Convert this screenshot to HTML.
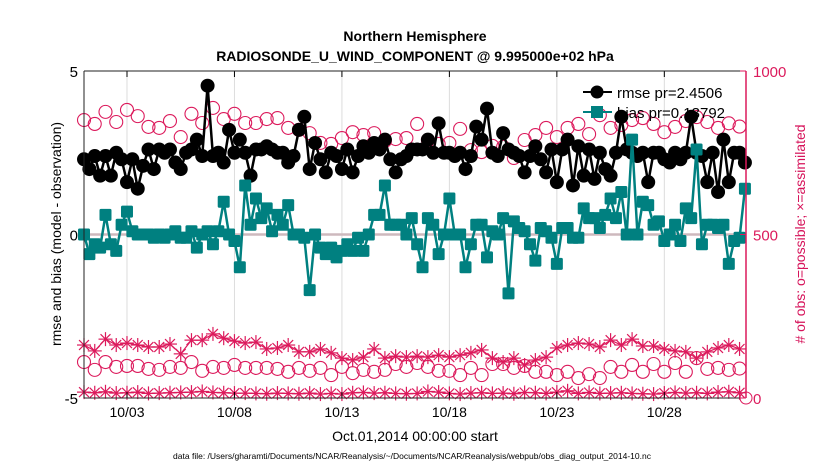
<!DOCTYPE html>
<html><head><meta charset="utf-8"><style>
body{margin:0;background:#fff;}
svg text{font-family:"Liberation Sans",sans-serif;}
</style></head><body>
<svg id="chart" width="830" height="470" viewBox="0 0 830 470" xmlns="http://www.w3.org/2000/svg">
<rect width="830" height="470" fill="#fff"/>
<text x="415" y="41" font-size="14" font-weight="bold" text-anchor="middle">Northern Hemisphere</text>
<text x="415" y="61" font-size="14" font-weight="bold" text-anchor="middle">RADIOSONDE_U_WIND_COMPONENT @ 9.995000e+02 hPa</text>
<g id="grid"></g>
<g id="marks"></g>
<g id="axes"></g>
<text transform="translate(61,234) rotate(-90)" font-size="14" text-anchor="middle">rmse and bias (model - observation)</text>
<text transform="translate(805,234) rotate(-90)" font-size="14" fill="#d6135a" text-anchor="middle"># of obs: o=possible; ×=assimilated</text>
<text x="415" y="441" font-size="14" text-anchor="middle">Oct.01,2014 00:00:00 start</text>
<text x="412" y="459" font-size="8.5" text-anchor="middle">data file: /Users/gharamti/Documents/NCAR/Reanalysis/~/Documents/NCAR/Reanalysis/webpub/obs_diag_output_2014-10.nc</text>
<g id="legend">
<line x1="583" y1="92" x2="612" y2="92" stroke="#000" stroke-width="2"/>
<circle cx="597" cy="92" r="6.5" fill="#000"/>
<text x="617" y="98" font-size="15">rmse pr=2.4506</text>
<line x1="583" y1="112" x2="612" y2="112" stroke="#008080" stroke-width="2"/>
<rect x="591" y="106" width="12" height="12" fill="#008080"/>
<text x="617" y="118" font-size="15">bias pr=0.13792</text>
</g>
</svg>
<script>
const rmse=[2.3,2.0,2.4,1.8,2.4,1.8,2.5,2.3,1.6,2.3,1.4,2.1,2.6,2.0,2.6,2.5,2.6,2.2,2.0,2.5,2.6,2.9,2.4,4.55,2.4,2.5,2.2,3.2,2.5,2.9,2.5,1.8,
2.6,2.6,2.7,2.6,2.5,2.5,2.2,2.4,3.2,3.6,2.0,2.8,2.3,1.9,2.5,2.4,2.0,2.6,1.9,2.4,2.7,2.5,2.8,2.6,2.9,2.3,1.9,2.3,2.4,2.6,2.6,
2.6,2.9,2.5,3.4,2.5,2.5,2.4,2.5,2.0,2.4,3.3,2.9,3.85,2.5,2.4,3.1,2.6,2.5,2.4,1.9,2.4,2.7,2.3,1.9,2.6,1.6,2.6,2.9,1.5,2.7,
1.8,2.6,1.7,2.5,2.0,1.8,2.5,3.6,2.6,2.5,2.4,2.5,1.6,2.5,2.5,2.3,2.2,2.5,2.3,2.5,3.6,2.5,2.4,1.6,2.5,1.3,2.9,1.6,2.5,2.5,2.2];
const bias=[0.0,-0.6,-0.3,-0.4,0.6,-0.3,-0.5,0.3,0.7,0.1,0.0,0.0,0.0,-0.1,0.0,-0.1,0.0,0.1,-0.1,-0.1,0.1,-0.4,0.0,0.1,-0.3,0.1,1.0,0.0,-0.2,-1.0,
1.5,0.3,1.1,0.5,0.8,0.1,0.6,0.3,0.9,0.0,0.0,-0.1,-1.7,0.0,-0.4,-0.6,-0.4,-0.7,-0.5,-0.3,-0.5,-0.1,-0.5,0.0,0.6,0.6,1.5,0.3,0.3,0.3,0.0,0.5,
-0.3,-1.0,0.5,0.3,-0.6,0.0,1.1,0.0,0.0,-1.0,-0.3,0.3,0.3,-0.7,0.1,0.0,0.5,-1.8,0.4,0.2,0.1,-0.3,-0.8,0.2,0.1,-0.1,-0.9,0.2,0.2,-0.1,-0.1,0.8,0.5,
0.5,0.2,0.6,1.1,0.5,1.3,0.0,2.9,0.0,1.0,0.9,0.3,0.4,-0.2,0.0,0.3,-0.2,0.8,0.5,2.6,-0.3,0.3,0.3,0.2,0.3,-0.9,-0.2,-0.1,1.4];
const possibleTop=[850,838,875,844,881,862,829,826,847,798,869,841,887,853,869,841,841,853,856,826,820,
810,780,777,795,813,804,810,786,792,795,838,789,777,780,823,758,752,771,768,734,
789,804,826,798,826,838,807,865,826,835,850,856,838,813,829,847,859,844,826,840,830];
const assimTop=[162,144,180,162,168,162,156,156,165,135,177,177,196,183,174,168,171,150,153,162,141,141,150,138,122,116,125,150,122,128,125,128,
125,131,125,131,138,147,122,110,122,101,116,125,153,162,168,165,156,177,162,180,159,159,150,144,141,122,141,153,162,150];
const possibleLow=[110,86,110,95,98,98,89,86,95,92,110,83,95,92,101,92,92,92,89,80,92,83,92,70,95,76,86,80,86,104,95,
107,95,83,83,70,92,70,104,104,92,98,80,80,70,80,61,73,61,95,80,101,80,104,80,107,80,122,89,92,86,90];
const assimLow=[18,16,19,15,16,18,14,15,16,17,18,20,17,16,15,15,14,13,15,14,13,15,12,14,12,16,17,15,16,14,13,14,
20,18,14,12,15,16,14,15,13,17,16,14,18,22,14,17,14,15,16,14,13,12,15,17,15,16,14,18,19,16];
const xTickLabels=["10/03","10/08","10/13","10/18","10/23","10/28"];
const xTickDays=[2,7,12,17,22,27];
const yTicks=[-5,0,5];
const y2Ticks=[0,500,1000];

const L=84,R=746,T=71,B=398,DAYS=30.8;
const NS="http://www.w3.org/2000/svg";
const xs=d=>L+(d/DAYS)*(R-L);
const ys=v=>B-(v+5)/10*(B-T);
const y2s=c=>B-c/1000*(B-T);
function mk(tag,attrs,parent){const e=document.createElementNS(NS,tag);for(const k in attrs)e.setAttribute(k,attrs[k]);parent.appendChild(e);return e;}
const grid=document.getElementById('grid'),marks=document.getElementById('marks'),axes=document.getElementById('axes');

xTickDays.forEach((d,i)=>{
 const g=mk('line',{x1:xs(d),x2:xs(d),y1:T,y2:B,stroke:'#dcdcdc','stroke-width':1},grid);
 
 
 const t=mk('text',{x:xs(d),y:B+19,'font-size':14,'text-anchor':'middle'},axes);
 t.textContent=xTickLabels[i];
 
 
 mk('line',{x1:xs(d),x2:xs(d),y1:B,y2:B-6,stroke:'#000'},axes);
 mk('line',{x1:xs(d),x2:xs(d),y1:T,y2:T+6,stroke:'#000'},axes);
});
const zl=mk('line',{x1:L,x2:R,y1:ys(0),y2:ys(0),stroke:'#cdb9bd','stroke-width':2.5},grid);



function series(arr,step,scale){return arr.map((v,i)=>[xs(i*step),scale(v)]);}
function polyline(pts,color,w,name){
 const p=mk('polyline',{points:pts.map(p=>p.join(',')).join(' '),fill:'none',stroke:color,'stroke-width':w},marks);
 
 
}
const PINK='#dc1a5c';
function stars(arr,name){
 const pts=series(arr,0.5,y2s);
 polyline(pts,PINK,1.2,name+'-line');
 pts.forEach(([x,y])=>{
  const g=mk('g',{},marks);
  
  
  for(let a=0;a<4;a++){const an=a*Math.PI/4;mk('line',{x1:x-7*Math.cos(an),y1:y-7*Math.sin(an),x2:x+7*Math.cos(an),y2:y+7*Math.sin(an),stroke:PINK,'stroke-width':1.2},g);}
 });
}
function rings(arr,name){
 series(arr,0.5,y2s).forEach(([x,y])=>{
  const c=mk('circle',{cx:x,cy:y,r:6.5,fill:'none',stroke:PINK,'stroke-width':1.1},marks);
  
  
 });
}
stars(assimTop,'assimilated-upper');
rings(possibleTop,'possible-upper');
rings(possibleLow,'possible-lower');
stars(assimLow,'assimilated-lower');

const rp=series(rmse,0.25,ys);
polyline(rp,'#000',2.5,'rmse-line');
rp.forEach(([x,y])=>{
 const c=mk('circle',{cx:x,cy:y,r:7,fill:'#000'},marks);
 
 
});
const bp=series(bias,0.25,ys);
polyline(bp,'#008080',2.5,'bias-line');
bp.forEach(([x,y])=>{
 const r=mk('rect',{x:x-6,y:y-6,width:12,height:12,rx:1.5,fill:'#008080'},marks);
 
 
});

mk('line',{x1:L,x2:R,y1:T,y2:T,stroke:'#222','stroke-width':1},axes);
mk('line',{x1:L,x2:R,y1:B,y2:B,stroke:'#222','stroke-width':1},axes);
mk('line',{x1:L,x2:L,y1:T,y2:B,stroke:'#222','stroke-width':1},axes);
mk('line',{x1:R,x2:R,y1:T,y2:B,stroke:PINK,'stroke-width':1.5},axes);
yTicks.forEach(v=>{
 const t=mk('text',{x:L-6,y:ys(v)+6,'font-size':15,'text-anchor':'end'},axes);
 t.textContent=v;
 
 
});
y2Ticks.forEach(v=>{
 mk('line',{x1:R,x2:R-6,y1:y2s(v),y2:y2s(v),stroke:PINK},axes);
 const t=mk('text',{x:R+7,y:y2s(v)+6,'font-size':15,fill:PINK},axes);
 t.textContent=v;
 
 
});
const ex=mk('circle',{cx:R,cy:B,r:6,fill:'none',stroke:PINK},axes);


</script>
</body></html>
